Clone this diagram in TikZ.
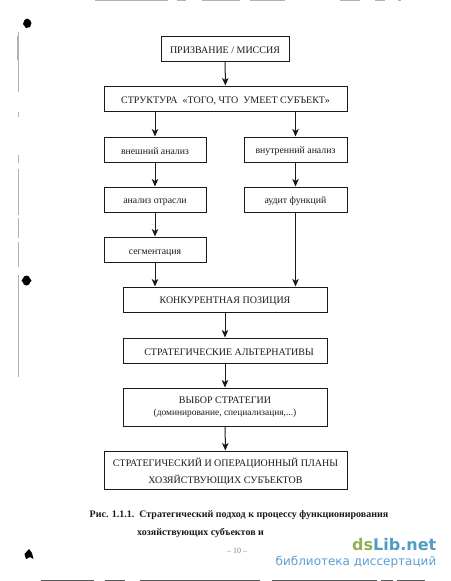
\documentclass[tikz,border=0pt]{standalone}
\usepackage{fontspec}
\setmainfont{Liberation Serif}
\newfontfamily\wmfont{DejaVu Sans}
\usetikzlibrary{arrows.meta}
\definecolor{inkc}{HTML}{1A1A1A}
\definecolor{wmgreen}{HTML}{93B153}
\definecolor{wmblue}{HTML}{4F9CC4}
\definecolor{wmblueb}{HTML}{5A9FD4}
\tikzset{
 x=1pt,y=-1pt,
 bx/.style={draw=inkc,line width=1pt,inner sep=0pt,align=center,text=inkc,font=\fontsize{10}{13}\selectfont,execute at begin node={\rule{0pt}{11pt}}},
 lower/.style={bx,font=\fontsize{9.8}{12}\selectfont},
 arr/.style={draw=inkc,line width=1pt,-{Stealth[length=7.5pt,width=6.5pt,inset=2pt]}},
 captxt/.style={inner sep=0pt,anchor=base west,text=inkc,font=\fontsize{10}{11}\selectfont\bfseries},
 blob/.style={fill=black,draw=none},
 scan/.style={draw=black!30,line width=0.8pt}
}
\begin{document}
\begin{tikzpicture}
\useasboundingbox[fill=white] (0,0) rectangle (450,581);
\node[bx,minimum width=128pt,minimum height=25pt] (miss) at (225,48.5) {ПРИЗВАНИЕ / МИССИЯ};
\node[bx,minimum width=243pt,minimum height=25pt] (str) at (225.5,98.5) {СТРУКТУРА\ \ «ТОГО, ЧТО\ \ УМЕЕТ СУБЪЕКТ»};
\node[lower,minimum width=102pt,minimum height=25pt] (ext) at (155,149.5) {внешний анализ};
\node[lower,minimum width=103pt,minimum height=25pt] (int) at (295.5,149.5) {внутренний анализ};
\node[lower,minimum width=102pt,minimum height=25pt] (ind) at (155,199.5) {анализ отрасли};
\node[lower,minimum width=103pt,minimum height=25pt] (aud) at (295.5,199.5) {аудит функций};
\node[lower,minimum width=102pt,minimum height=25pt] (seg) at (155,249.5) {сегментация};
\node[bx,minimum width=204pt,minimum height=25pt] (pos) at (225,299.5) {КОНКУРЕНТНАЯ ПОЗИЦИЯ};
\node[bx,minimum width=204pt,minimum height=25pt] (alt) at (225,350.5) {\hspace*{8pt}СТРАТЕГИЧЕСКИЕ АЛЬТЕРНАТИВЫ};
\node[bx,minimum width=204pt,minimum height=38pt] (cho) at (225,407) {ВЫБОР СТРАТЕГИИ\\[-1pt]{\fontsize{9.4}{11}\selectfont (доминирование, специализация,...)}};
\node[bx,minimum width=243pt,minimum height=38pt] (pla) at (225.5,470) {\rule{0pt}{13pt}СТРАТЕГИЧЕСКИЙ И ОПЕРАЦИОННЫЙ ПЛАНЫ\\[4pt]ХОЗЯЙСТВУЮЩИХ СУБЪЕКТОВ};
\draw[arr] (miss) -- (str);
\draw[arr] (str.south -| ext) -- (ext);
\draw[arr] (str.south -| int) -- (int);
\draw[arr] (ext) -- (ind);
\draw[arr] (int) -- (aud);
\draw[arr] (ind) -- (seg);
\draw[arr] (seg) -- (pos.north -| seg);
\draw[arr] (aud) -- (pos.north -| aud);
\draw[arr] (pos) -- (alt);
\draw[arr] (alt) -- (cho);
\draw[arr] (cho) -- (pla);
\node[captxt] (c1) at (89.5,517) {Рис. 1.1.1.\ \ Стратегический подход к процессу функционирования};
\node[captxt] (c2) at (137,535) {хозяйствующих субъектов и};
\node[inner sep=0pt,text=gray,font=\fontsize{8}{9}\selectfont] (pg) at (237,550.5) {– 10 –};
\node[inner sep=0pt,anchor=base east,text=wmgreen,font=\wmfont\fontsize{16}{18}\selectfont\bfseries] (wa) at (436.5,550) {ds\textcolor{wmblue}{Lib.net}};
\node[inner sep=0pt,anchor=base east,text=wmblueb,font=\wmfont\fontsize{12}{13}\selectfont] (wb) at (436.5,565) {библиотека диссертаций};
% scan specks
\fill[blob] (27,18.5) -- (30,20) -- (31.5,23) -- (30,27) -- (26,28) -- (23,24) -- (24.5,20) -- cycle;
\fill[blob] (26.5,275.5) -- (29,276.5) -- (30,278.5) -- (31.5,280.5) -- (30,282.5) -- (29,284.5) -- (26.5,285.5) -- (24,284.5) -- (23,282.5) -- (21.5,280.5) -- (23,278.5) -- (24,276.5) -- cycle;
\fill[blob] (29,549) -- (32,553) -- (33.5,559) -- (30,557) -- (26,559) -- (24.5,554) -- cycle;
\draw[scan] (18.5,32) -- (18.5,92) (18.5,112) -- (18.5,117) (18.5,155) -- (18.5,163) (18.5,169) -- (18.5,215) (18.5,218) -- (18.5,238) (18.5,242) -- (18.5,267) (18.5,275) -- (18.5,300) (18.5,290) -- (18.5,377);
\draw[scan,line width=1.4pt] (18,36) -- (18,60) (18.5,340) -- (18.5,372);
\draw[scan] (95,0.5) -- (168,0.5) (177,0.5) -- (186,0.5) (202,0.5) -- (240,0.5) (250,0.5) -- (285,0.5) (340,0.5) -- (360,0.5) (375,0.5) -- (385,0.5) (398,0.5) -- (401,0.5);
\draw[black!65,line width=1pt] (41,580.5) -- (94,580.5) (105,580.5) -- (125,580.5) (140,580.5) -- (260,580.5) (272,580.5) -- (377,580.5) (381,580.5) -- (393,580.5) (397,580.5) -- (425,580.5);
\end{tikzpicture}
\end{document}
